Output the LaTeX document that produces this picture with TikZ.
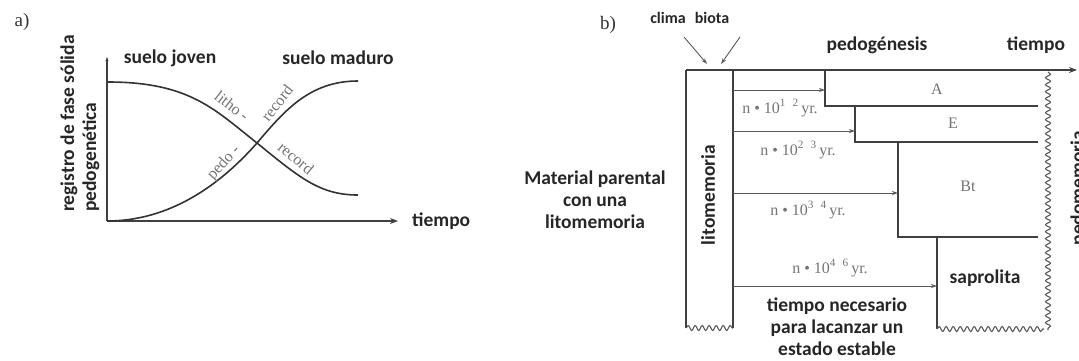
\documentclass[tikz,border=0pt]{standalone}
\usepackage{fontspec}
\setmainfont{Carlito}
\newfontfamily\serifface{Liberation Serif}
\usetikzlibrary{arrows.meta,decorations.pathmorphing}
\begin{document}
\begin{tikzpicture}[x=1pt,y=-1pt,
  lbl/.style={font=\fontsize{19.5}{22}\selectfont\bfseries, text=black!85, inner sep=0pt},
  smalllbl/.style={font=\fontsize{16}{19}\selectfont\bfseries, text=black!85, inner sep=0pt},
  ser/.style={font=\serifface\fontsize{16}{18}\selectfont, text=black!55, inner sep=0pt},
  panel/.style={font=\serifface\fontsize{19}{22}\selectfont, text=black!80, inner sep=0pt},
  axis/.style={draw=black!75, line width=1.5pt},
  curve/.style={draw=black!80, line width=1.6pt},
  tarrow/.style={draw=black!65, line width=0.9pt, -{Stealth[length=6pt,width=4pt]}},
  wavy/.style={draw=black!65, line width=1.1pt, decorate, decoration={snake, segment length=7pt, amplitude=2.5pt}}
]
\useasboundingbox (0,0) rectangle (1079,360);

% ---------------- panel a ----------------
\node[panel] (la) at (22,22) {a)};
\coordinate (ao) at (107,221);
\coordinate (ay) at (107,57);
\coordinate (ax) at (398,221);
\draw[axis,-{Stealth[length=8pt,width=6pt]}] (ao) -- (ax);
\draw[axis,-{Stealth[length=4pt,width=3pt]}] (ao) -- (ay);
\node[lbl,anchor=west] (tiempoa) at (412,221) {tiempo};
\node[lbl] (joven) at (170,58) {suelo joven};
\node[lbl] (maduro) at (338,58) {suelo maduro};
\node[lbl,rotate=90,anchor=west] (reg1) at (69,212) {registro de fase sólida};
\node[lbl,rotate=90,anchor=west] (reg2) at (91,212) {pedogenética};

\coordinate (l0) at (108,82);
\coordinate (lx) at (257,143);
\coordinate (l1) at (358,195);
\draw[curve] (l0) .. controls (190,82) and (215,110) .. (lx) .. controls (300,178) and (320,195) .. (l1);
\coordinate (p0) at (107,221);
\coordinate (p1) at (358,81);
\draw[curve] (p0) .. controls (170,221) and (220,185) .. (lx) .. controls (285,110) and (310,81) .. (p1);

\node[ser,rotate=-38] (litho) at (232,106) {litho -};
\node[ser,rotate=52] (rec1) at (277,103) {record};
\node[ser,rotate=48] (pedo) at (224,163) {pedo -};
\node[ser,rotate=-40] (rec2) at (296,158) {record};

% ---------------- panel b ----------------
\node[panel] (lb) at (608,25) {b)};
\node[smalllbl] (clima) at (668,18) {clima};
\node[smalllbl] (biota) at (712,18) {biota};
\node[lbl] (pedog) at (877,45) {pedogénesis};
\node[lbl] (tiempob) at (1036,45) {tiempo};

\coordinate (t0) at (686,70);
\coordinate (t1) at (733,70);
\coordinate (tend) at (1077,70);
\draw[axis,-{Stealth[length=8pt,width=6pt]}] (t0) -- (tend);
\coordinate (cb0) at (686,328);
\coordinate (cb1) at (733,328);
\draw[axis] (t0) -- (cb0);
\draw[axis] (t1) -- (cb1);
\draw[wavy] (cb0) -- (cb1);

\coordinate (ca) at (684,37);
\coordinate (cat) at (707,64);
\coordinate (ba) at (740,37);
\coordinate (bat) at (721,64);
\draw[tarrow] (ca) -- (cat);
\draw[tarrow] (ba) -- (bat);

\node[lbl,rotate=90] (lito) at (708,195) {litomemoria};
\node[lbl,align=center] (matpar) at (595,200) {Material parental\\con una\\litomemoria};

% horizon steps
\coordinate (sA0) at (825,70);
\coordinate (sA1) at (825,106);
\coordinate (sA2) at (1038,106);
\draw[axis] (sA0) -- (sA1) -- (sA2);
\coordinate (sE0) at (855,106);
\coordinate (sE1) at (855,142);
\coordinate (sE2) at (1038,142);
\draw[axis] (sE0) -- (sE1) -- (sE2);
\coordinate (sB0) at (898,142);
\coordinate (sB1) at (898,237);
\coordinate (sB2) at (1038,237);
\draw[axis] (sB0) -- (sB1) -- (sB2);
\coordinate (sS0) at (937,237);
\coordinate (sS1) at (937,329);
\coordinate (sS2) at (1044,329);
\draw[axis] (sS0) -- (sS1);
\draw[wavy] (sS1) -- (sS2);
\coordinate (w0) at (1048,72);
\coordinate (w1) at (1048,330);
\draw[wavy] (w0) -- (w1);

\node[ser] (hA) at (937,89) {A};
\node[ser] (hE) at (953,123) {E};
\node[ser] (hB) at (968,186) {Bt};
\node[lbl] (sap) at (985,278) {saprolita};

% time arrows
\coordinate (a1) at (733,90);
\coordinate (a2) at (733,131);
\coordinate (a3) at (733,193);
\coordinate (a4) at (733,286);
\draw[tarrow] (a1) -- (825,90);
\draw[tarrow] (a2) -- (855,131);
\draw[tarrow] (a3) -- (898,193);
\draw[tarrow] (a4) -- (937,286);
\node[ser] (n1) at (780,108) {n • 10\textsuperscript{1\hspace{7pt}2}\,yr.};
\node[ser] (n2) at (798,150) {n • 10\textsuperscript{2\hspace{7pt}3}\,yr.};
\node[ser] (n3) at (808,210) {n • 10\textsuperscript{3\hspace{7pt}4}\,yr.};
\node[ser] (n4) at (830,268) {n • 10\textsuperscript{4\hspace{7pt}6}\,yr.};

\node[lbl,align=center] (need) at (837,327) {tiempo necesario\\para lacanzar un\\estado estable};
\node[lbl,rotate=90,anchor=base] (pedom) at (1084,188) {pedomemoria};
\end{tikzpicture}
\end{document}
